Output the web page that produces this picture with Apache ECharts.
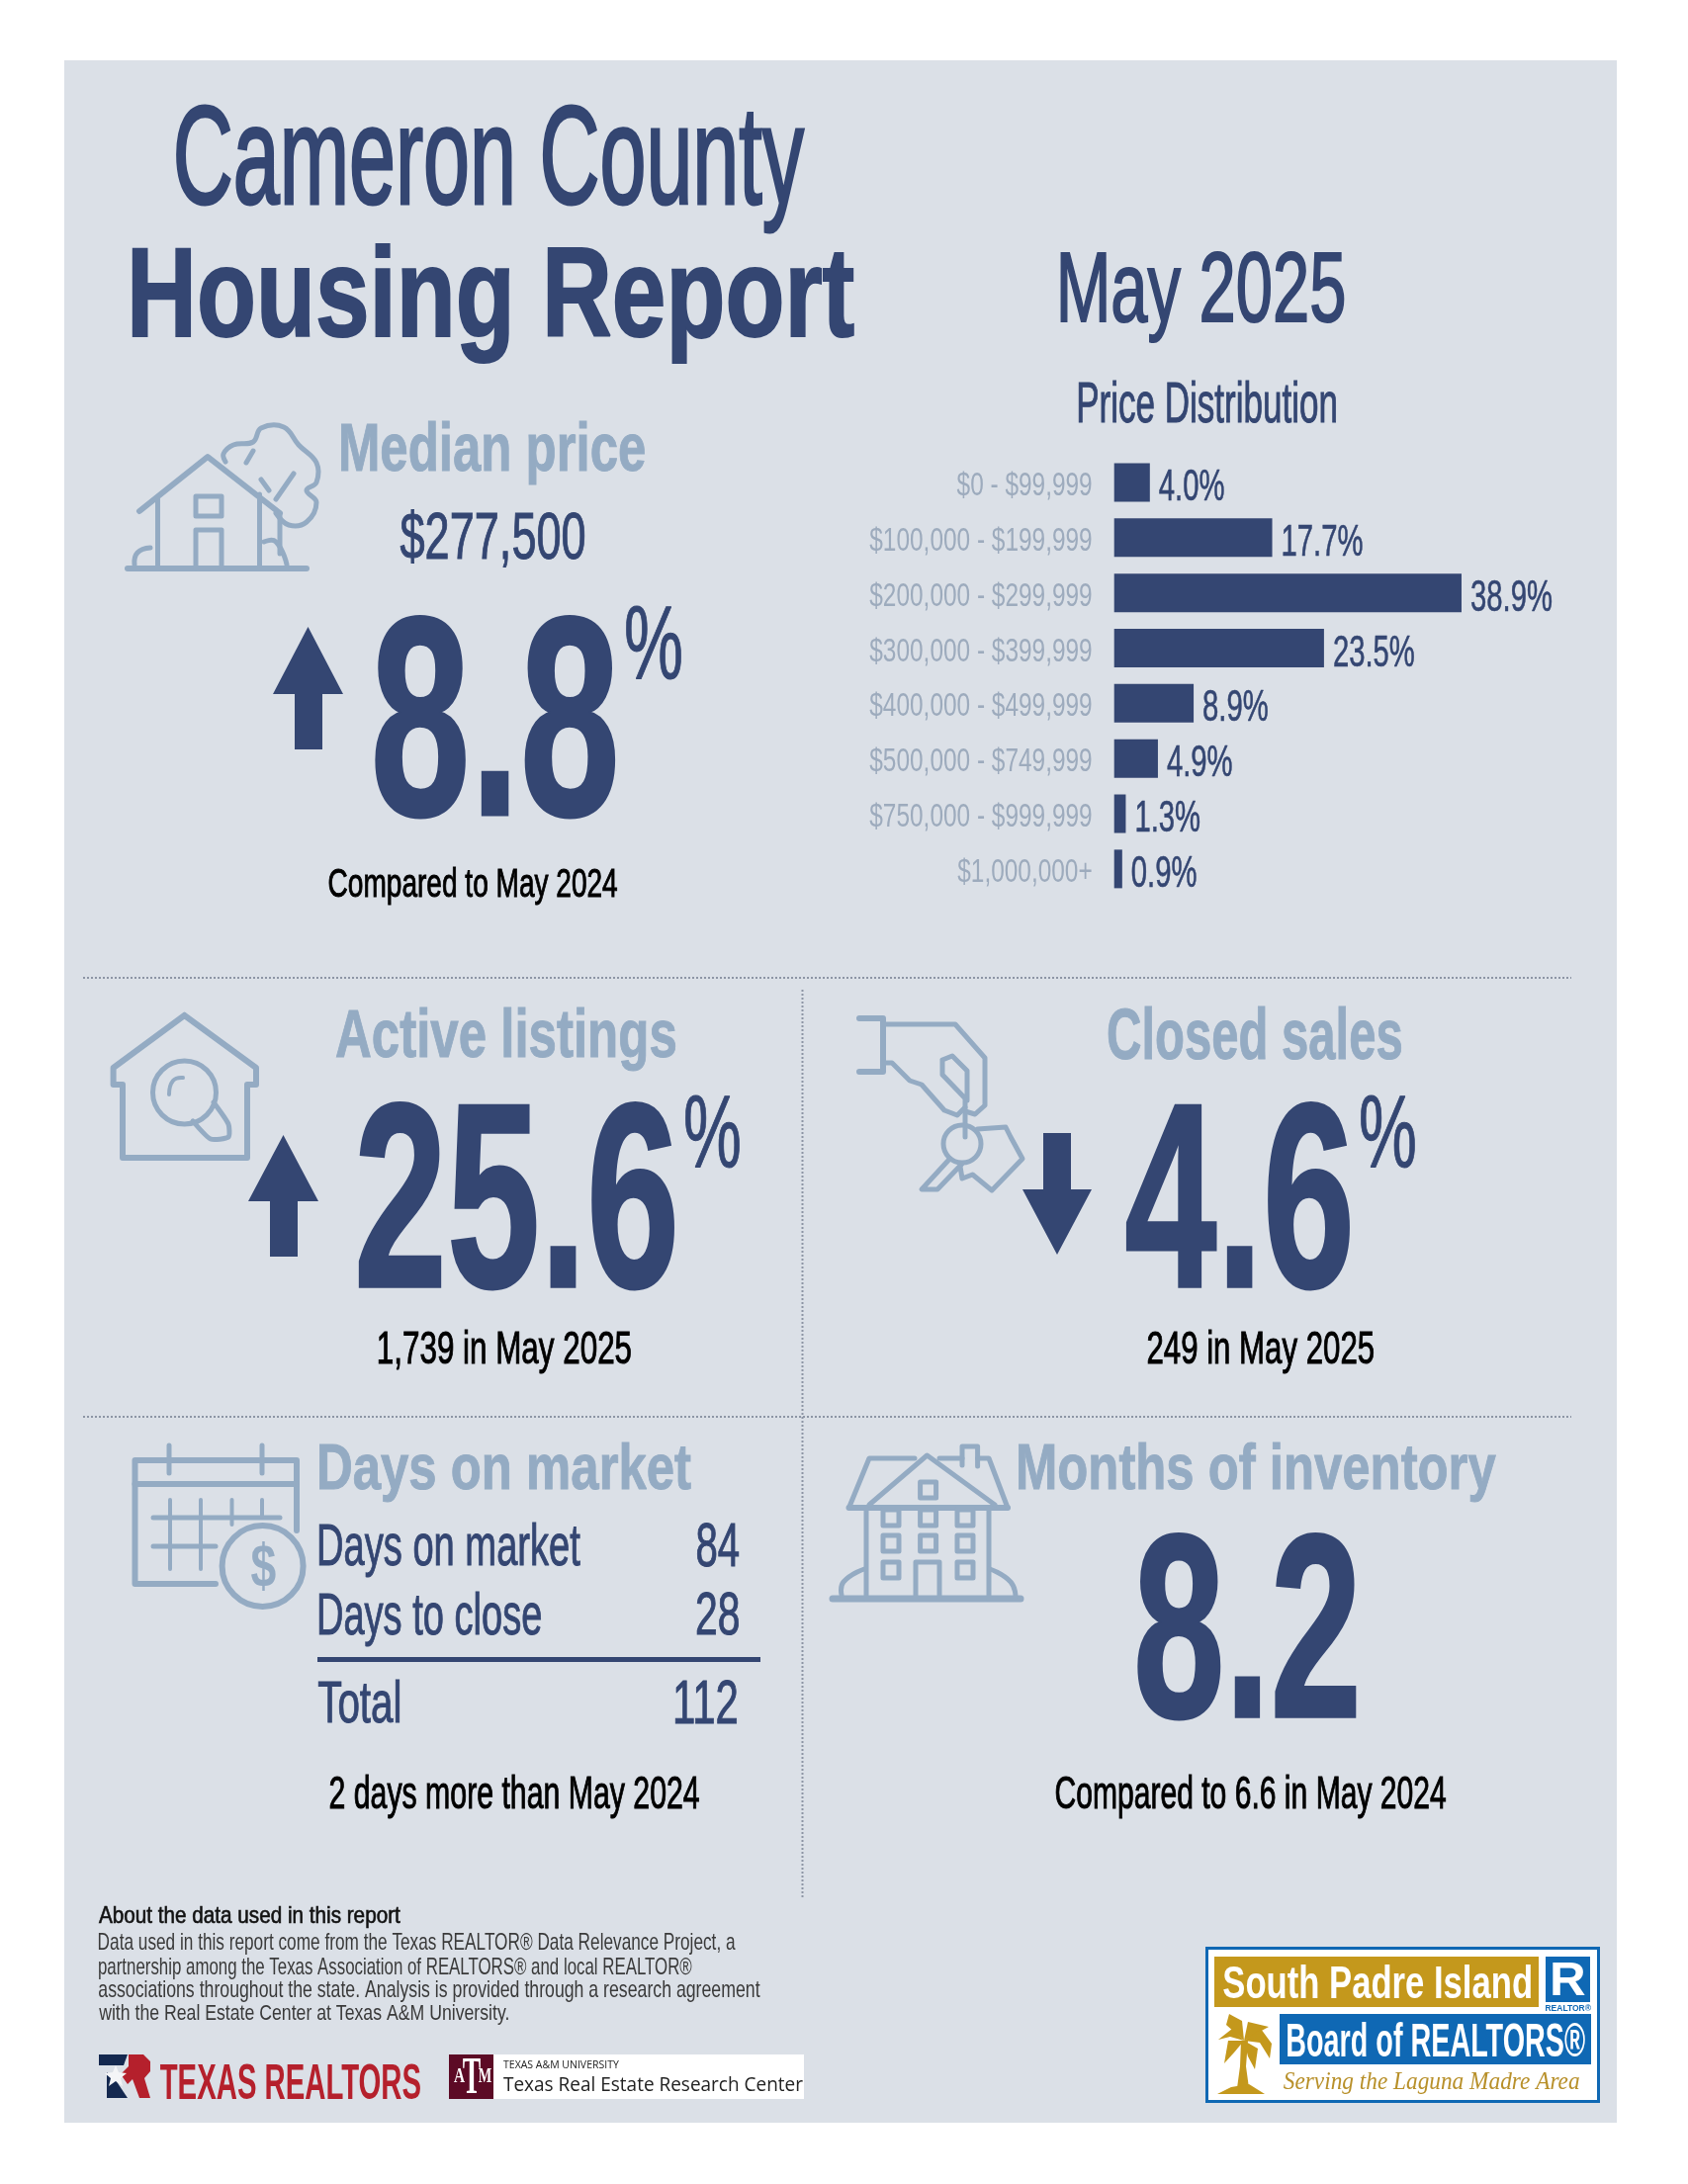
<!DOCTYPE html>
<html>
<head>
<meta charset="UTF-8">
<title>Cameron County Housing Report</title>
<style>
    html, body { margin: 0; padding: 0; background: #fff; }
    #main { width: 1707px; height: 2209px; }
</style>
</head>
<body>
<div id="main"></div>
<script src="https://cdn.jsdelivr.net/npm/echarts@6/dist/echarts.min.js"></script>
<script>
// data
var priceRanges = ['$0 - $99,999', '$100,000 - $199,999', '$200,000 - $299,999', '$300,000 - $399,999',
    '$400,000 - $499,999', '$500,000 - $749,999', '$750,000 - $999,999', '$1,000,000+'];
var priceShares = [4.0, 17.7, 38.9, 23.5, 8.9, 4.9, 1.3, 0.9];
var medianPrice = '$277,500';
var medianChange = '8.8';
var listingsChange = '25.6';
var salesChange = '4.6';
var daysRows = ['Days on market', 'Days to close', 'Total'];
var daysValues = ['84', '28', '112'];
var monthsInventory = '8.2';
var aboutLines = [
    'Data used in this report come from the Texas REALTOR® Data Relevance Project, a',
    'partnership among the Texas Association of REALTORS® and local REALTOR®',
    'associations throughout the state. Analysis is provided through a research agreement',
    'with the Real Estate Center at Texas A&M University.'
];

var DARK = '#344672', LIGHT = '#94abc3', GREY = '#9dabbd', PANEL = '#dbe0e7', GOLD = '#c4981c', BLUE = '#0f68b4';
var SANS = '"Liberation Sans",sans-serif';

var ctx = document.createElement('canvas').getContext('2d');
var g = [];

// text squeezed into an ink box, no condensed font is installed so scaleX does the narrowing
function fit(text, x0, y0, x1, y1, color, weight, family, extra) {
    family = family || SANS;
    weight = weight || '';
    ctx.font = weight + ' 100px ' + family;
    ctx.textBaseline = 'middle';
    ctx.textAlign = 'left';
    var m = ctx.measureText(text);
    var size = 100 * (y1 - y0) / (m.actualBoundingBoxAscent + m.actualBoundingBoxDescent);
    var k = size / 100;
    var sx = (x1 - x0) / ((m.actualBoundingBoxLeft + m.actualBoundingBoxRight) * k);
    var style = {
        text: text, x: 0, y: 0, fill: color, font: weight + ' ' + size.toFixed(2) + 'px ' + family,
        textAlign: 'left', textVerticalAlign: 'middle'
    };
    if (extra) { style.stroke = color; style.lineWidth = extra; }
    g.push({
        type: 'text', x: x0 + m.actualBoundingBoxLeft * k * sx, y: y0 + m.actualBoundingBoxAscent * k,
        scaleX: sx, z: 5, style: style
    });
}

function rect(x, y, w, h, fill) {
    g.push({type: 'rect', shape: {x: x, y: y, width: w, height: h}, style: {fill: fill}, z: 1});
}
function polygon(points, fill) {
    g.push({type: 'polygon', shape: {points: points}, style: {fill: fill}, z: 3});
}
function stroke(points, width, smooth) {
    g.push({
        type: 'polyline', shape: {points: points, smooth: smooth || 0},
        style: {stroke: LIGHT, fill: null, lineWidth: width || 5, lineCap: 'round', lineJoin: 'round'}, z: 3
    });
}
function ring(cx, cy, r, width) {
    g.push({type: 'circle', shape: {cx: cx, cy: cy, r: r}, style: {stroke: LIGHT, fill: null, lineWidth: width || 5}, z: 3});
}
function dotted(x1, y1, x2, y2) {
    g.push({
        type: 'line', shape: {x1: x1, y1: y1, x2: x2, y2: y2},
        style: {stroke: '#8d95a5', lineWidth: 2, lineDash: [2, 2]}, z: 2
    });
}

// page
rect(65, 61, 1570, 2086, PANEL);
dotted(84, 989, 1589, 989);
dotted(84, 1433, 1589, 1433);
dotted(811.5, 1001, 811.5, 1920);

// headings
fit('Cameron County', 179, 108, 813, 236, DARK, '', SANS, 3);
fit('Housing Report', 134, 246, 864, 367, DARK, 'bold', SANS, 2);
fit('May 2025', 1073, 255, 1359, 346, DARK, '', SANS, 2);
fit('Price Distribution', 1091, 386, 1351, 428, DARK, '', SANS, 1);

// median price
fit('Median price', 345, 426, 652, 490, LIGHT, 'bold', SANS, 1);
fit(medianPrice, 405, 516, 591, 574, DARK, '', SANS, 1);
polygon([[311.5, 634], [347, 702], [326, 702], [326, 758], [298, 758], [298, 702], [276, 702]], DARK);
fit(medianChange, 380, 623, 622, 827, DARK, 'bold', SANS, 3);
fit('%', 633, 612, 689, 687, DARK, '', SANS, 1);
fit('Compared to May 2024', 333, 877, 624, 916, '#000', '', SANS, 1);

// active listings
fit('Active listings', 340, 1019, 683, 1084, LIGHT, 'bold', SANS, 1);
polygon([[286.5, 1148], [322, 1215], [301, 1215], [301, 1271], [273, 1271], [273, 1215], [251, 1215]], DARK);
fit(listingsChange, 363, 1115, 681, 1304, DARK, 'bold', SANS, 3);
fit('%', 693, 1107, 748, 1181, DARK, '', SANS, 1);
fit('1,739 in May 2025', 383, 1346, 638, 1389, '#000', '', SANS, 1);

// closed sales
fit('Closed sales', 1121, 1019, 1417, 1072, LIGHT, 'bold', SANS, 1);
polygon([[1055, 1146], [1083, 1146], [1083, 1203], [1104, 1203], [1069, 1269], [1034, 1203], [1055, 1203]], DARK);
fit(salesChange, 1139, 1115, 1364, 1304, DARK, 'bold', SANS, 3);
fit('%', 1376, 1107, 1431, 1181, DARK, '', SANS, 1);
fit('249 in May 2025', 1161, 1346, 1389, 1389, '#000', '', SANS, 1);

// days on market
fit('Days on market', 323, 1459, 699, 1520, LIGHT, 'bold', SANS, 1);
fit(daysRows[0], 323, 1540, 587, 1595, DARK, '', SANS, 1);
fit(daysValues[0], 705, 1540, 747, 1585, DARK, '', SANS, 1);
fit(daysRows[1], 323, 1610, 547, 1665, DARK, '', SANS, 1);
fit(daysValues[1], 705, 1610, 747, 1654, DARK, '', SANS, 1);
rect(321, 1676, 448, 5, DARK);
fit(daysRows[2], 322, 1699, 404, 1743, DARK, '', SANS, 1);
fit(daysValues[2], 683, 1699, 745, 1743, DARK, '', SANS, 1);
fit('2 days more than May 2024', 334, 1796, 707, 1839, '#000', '', SANS, 1);

// months of inventory
fit('Months of inventory', 1030, 1459, 1513, 1520, LIGHT, 'bold', SANS, 1);
fit(monthsInventory, 1151, 1551, 1371, 1739, DARK, 'bold', SANS, 3);
fit('Compared to 6.6 in May 2024', 1068, 1796, 1462, 1839, '#000', '', SANS, 1);

// footer note
fit('About the data used in this report', 100, 1928, 405, 1950, '#111', '', SANS, 0.6);
fit(aboutLines[0], 100, 1955, 744, 1977, '#3a3a3a');
fit(aboutLines[1], 100, 1980, 700, 2002, '#3a3a3a');
fit(aboutLines[2], 100, 2003, 769, 2025, '#3a3a3a');
fit(aboutLines[3], 100, 2027, 514, 2048, '#3a3a3a');

// house with tree
stroke([[141, 517], [210, 462], [283, 519]], 6);
stroke([[159.5, 505], [159.5, 575]]);
stroke([[262.5, 500], [262.5, 575]]);
stroke([[129, 575], [310, 575]], 6);
stroke([[198, 502], [224, 502], [224, 522], [198, 522], [198, 502]]);
stroke([[198, 575], [198, 536], [224, 536], [224, 575]]);
stroke([[228, 467], [226, 459], [236, 450], [256, 447], [264, 433], [287, 432], [302, 450], [320, 468],
    [320, 488], [310, 496], [320, 508], [310, 528], [292, 531], [279, 519]], 5, 0.4);
stroke([[283, 519], [283, 560]]);
stroke([[279, 505], [297, 479]]);
stroke([[264, 485], [272, 496]]);
stroke([[249, 468], [256, 456]]);
stroke([[136, 571], [139, 559], [152, 554]], 5, 0.5);
stroke([[267, 548], [279, 548], [290, 571]], 5, 0.5);

// house with magnifier
stroke([[186.5, 1027], [259, 1080], [259, 1097], [250, 1097], [250, 1171], [124, 1171], [124, 1097],
    [114.6, 1097], [114.6, 1080], [186.5, 1027]], 6);
ring(186.5, 1105, 32);
stroke([[195, 1134], [213, 1152], [231, 1150], [231, 1137], [216, 1115]], 5, 0.2);
stroke([[171, 1107], [175, 1093], [185, 1090]], 4, 0.5);

// hand with keys
stroke([[869, 1030], [893, 1030], [893, 1084], [869, 1084]], 6);
stroke([[893, 1036], [966, 1036], [996, 1070], [996, 1118], [986, 1127], [976, 1124]]);
stroke([[893, 1075], [902, 1075], [920, 1093], [932, 1097], [955, 1123], [968, 1128], [976, 1120]]);
stroke([[953, 1072], [963, 1068], [978, 1083], [978, 1113], [953, 1087], [953, 1072]]);
stroke([[976, 1113], [976, 1150]]);
ring(973, 1157, 19);
stroke([[960.5, 1172], [932, 1203], [948, 1203], [973, 1177]]);
stroke([[988.6, 1142], [1017, 1140], [1022, 1150], [1034, 1172], [1003, 1204], [983.5, 1188], [973, 1192], [971, 1180]]);

// calendar with dollar
stroke([[218, 1602], [136.5, 1602], [136.5, 1477], [300, 1477], [300, 1548]], 6);
stroke([[136.5, 1501], [300, 1501]], 6);
stroke([[171, 1462], [171, 1490]]);
stroke([[265, 1462], [265, 1490]]);
stroke([[155, 1535], [283, 1535]]);
stroke([[155, 1564], [218, 1564]]);
stroke([[172, 1517], [172, 1587]], 4);
stroke([[203, 1517], [203, 1587]], 4);
stroke([[234.5, 1517], [234.5, 1542]], 4);
stroke([[265, 1517], [265, 1535]], 4);
ring(265.6, 1584, 41, 6);
fit('$', 254, 1558, 279, 1608, LIGHT, 'bold');

// building
stroke([[842, 1617], [1032, 1617]], 7);
stroke([[876, 1525], [876, 1617]], 5);
stroke([[1000, 1525], [1000, 1617]], 5);
stroke([[858.5, 1525], [1019, 1525]], 6);
stroke([[858.5, 1525], [879, 1475], [925, 1475]]);
stroke([[950, 1475], [973, 1475]]);
stroke([[988.6, 1475], [1000, 1475], [1019, 1525]]);
stroke([[879, 1522], [937.5, 1472], [1006, 1522]]);
stroke([[973, 1482], [973, 1463], [988.6, 1463], [988.6, 1483]]);
[[938.6, 1507], [901, 1535], [938.6, 1535], [976, 1535], [901, 1561], [938.6, 1561], [976, 1561], [901, 1588], [976, 1588]].forEach(function (w) {
    stroke([[w[0] - 8, w[1] - 8], [w[0] + 8, w[1] - 8], [w[0] + 8, w[1] + 8], [w[0] - 8, w[1] + 8], [w[0] - 8, w[1] - 8]], 5);
});
stroke([[926, 1617], [926, 1580], [950, 1580], [950, 1617]]);
stroke([[851, 1613], [853, 1600], [874, 1587]], 5, 0.5);
stroke([[1001, 1587], [1022, 1600], [1027, 1615]], 5, 0.5);

// texas realtors logo
polygon([[100, 2078], [129, 2078], [125, 2089], [100, 2089]], '#14284f');
polygon([[108, 2096], [117, 2104], [129, 2122], [108, 2122]], '#14284f');
polygon([[130, 2078], [145, 2078], [152, 2085], [152, 2095], [146, 2102], [152, 2122], [141, 2122], [134, 2103], [129, 2108], [122, 2098], [130, 2090]], '#b5202c');
polygon([[117, 2089], [120, 2096], [128, 2097], [122, 2102], [124, 2110], [117, 2105], [110, 2110], [112, 2102], [106, 2097], [114, 2096]], '#f4f5f7');
fit('TEXAS REALTORS', 162, 2088, 425, 2123, '#b5202c', 'bold');

// research center logo
rect(454, 2078, 359, 45, '#fff');
rect(454, 2078, 45, 45, '#5c0a25');
fit('T', 468, 2083, 486, 2118, '#fff', 'bold', '"Liberation Serif"');
fit('A', 459, 2092, 470, 2106, '#fff', 'bold', '"Liberation Serif"');
fit('M', 484, 2092, 497, 2106, '#fff', 'bold', '"Liberation Serif"');
fit('TEXAS A&M UNIVERSITY', 509, 2084, 626, 2092, '#222', '', '"Open Sans"');
fit('Texas Real Estate Research Center', 509, 2099, 812, 2115, '#222', '', '"Open Sans"');

// south padre island logo
rect(1219, 1969, 399, 158, BLUE);
rect(1222, 1972, 393, 152, '#fff');
rect(1228, 1979, 328, 51, GOLD);
fit('South Padre Island', 1237, 1987, 1548, 2021, '#fff', 'bold');
rect(1563, 1979, 45, 46, BLUE);
fit('R', 1570, 1985, 1603, 2018, '#fff', 'bold');
fit('REALTOR®', 1563, 2027, 1609, 2034, BLUE, 'bold');
rect(1294, 2037, 315, 51, BLUE);
fit('Board of REALTORS®', 1302, 2044, 1603, 2080, '#fff', 'bold');
fit('Serving the Laguna Madre Area', 1298, 2095, 1597, 2118, '#b8902a', 'italic', '"Liberation Serif"');
// palm
polygon([[1255, 2064], [1262, 2064], [1260, 2090], [1263, 2112], [1251, 2112], [1254, 2090]], GOLD);
polygon([[1231, 2118], [1245, 2111], [1263, 2108], [1279, 2118]], GOLD);
polygon([[1258, 2064], [1240, 2048], [1243, 2037], [1256, 2044]], GOLD);
polygon([[1258, 2064], [1262, 2045], [1283, 2050], [1272, 2056]], GOLD);
polygon([[1258, 2064], [1246, 2052], [1232, 2063], [1244, 2060]], GOLD);
polygon([[1258, 2064], [1242, 2064], [1238, 2087], [1248, 2076]], GOLD);
polygon([[1258, 2064], [1272, 2072], [1269, 2093], [1262, 2080]], GOLD);
polygon([[1258, 2064], [1275, 2052], [1286, 2067], [1284, 2082], [1274, 2066]], GOLD);

var chart = echarts.init(document.getElementById('main'));
chart.setOption({
    animation: false,
    grid: {left: 1126.7, top: 460, width: 451.5, height: 446.8},
    xAxis: {type: 'value', min: 0, max: 50, show: false},
    yAxis: {
        type: 'category', inverse: true, data: priceRanges,
        axisLine: {show: false}, axisTick: {show: false}, axisLabel: {show: false}
    },
    series: [{
        type: 'bar', data: priceShares, barWidth: 39, z: 4,
        itemStyle: {color: DARK}
    }]
});

// axis and value labels placed off the chart's own scales, axis labels can't be narrowed
priceShares.forEach(function (v, i) {
    var p = chart.convertToPixel({gridIndex: 0}, [v, i]);
    var p0 = chart.convertToPixel({gridIndex: 0}, [0, i]);
    g.push({
        type: 'text', x: p[0] + 9, y: p[1] + 6, scaleX: 0.665, z: 5,
        style: {
            text: v.toFixed(1) + '%', x: 0, y: 0, fill: DARK, font: '44px ' + SANS,
            stroke: DARK, lineWidth: 0.6, textAlign: 'left', textVerticalAlign: 'middle'
        }
    });
    g.push({
        type: 'text', x: p0[0] - 22, y: p0[1] + 4, scaleX: 0.74, z: 5,
        style: {
            text: priceRanges[i], x: 0, y: 0, fill: GREY, font: '33px ' + SANS,
            textAlign: 'right', textVerticalAlign: 'middle'
        }
    });
});
chart.setOption({graphic: {elements: g}});
</script>
</body>
</html>
